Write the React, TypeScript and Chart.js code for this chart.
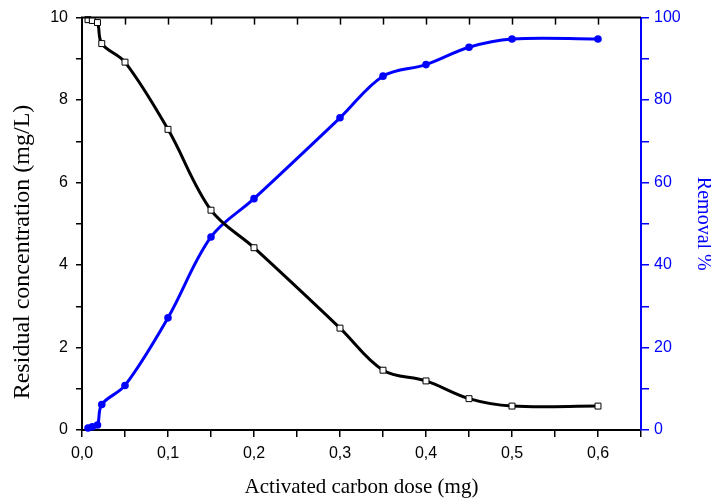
import React, { useEffect, useRef } from "react";
import { Chart, registerables } from "chart.js";

Chart.register(...registerables);

const dose = [0.007, 0.012, 0.018, 0.023, 0.05, 0.1, 0.15, 0.2, 0.3, 0.35, 0.4, 0.45, 0.5, 0.6];
const residual = [9.95, 9.93, 9.88, 9.37, 8.92, 7.29, 5.33, 4.42, 2.47, 1.45, 1.19, 0.76, 0.58, 0.58];
const removal = [0.5, 0.8, 1.2, 6.2, 10.8, 27.2, 46.8, 56.1, 75.7, 85.8, 88.6, 92.8, 94.8, 94.8];

const xTitle = "Activated carbon dose (mg)";
const yTitle = "Residual concentration (mg/L)";
const y1Title = "Removal %";

const BLUE = "#0000ff";
const SERIF = "'Liberation Serif', 'Times New Roman', serif";
const TICK_FONT = { family: "'Liberation Sans', Arial, sans-serif", size: 16 };

const frameAndTitle = {
  id: "frameAndTitle",
  afterDraw(chart: any) {
    const { ctx, chartArea, scales } = chart;
    const xs = scales.x;
    ctx.save();
    ctx.strokeStyle = "#000";
    ctx.lineWidth = 2;
    ctx.beginPath();
    ctx.moveTo(chartArea.left - 1, chartArea.top);
    ctx.lineTo(chartArea.right, chartArea.top);
    ctx.stroke();
    ctx.lineWidth = 1.5;
    xs.ticks.forEach((t: any) => {
      const px = Math.round(xs.getPixelForValue(t.value)) + 0.5;
      if (px <= chartArea.left + 1 || px >= chartArea.right - 1) return;
      ctx.beginPath();
      ctx.moveTo(px, chartArea.top);
      ctx.lineTo(px, chartArea.top + 7);
      ctx.stroke();
    });
    // left axis title
    ctx.translate(23, 252);
    ctx.rotate(-Math.PI / 2);
    ctx.fillStyle = "#000";
    ctx.font = `24px ${SERIF}`;
    ctx.textAlign = "center";
    ctx.textBaseline = "middle";
    ctx.fillText(yTitle, 0, 0);
    ctx.restore();
  },
};

export default function App() {
  const ref = useRef<HTMLCanvasElement | null>(null);

  useEffect(() => {
    if (!ref.current) return;
    const chart = new Chart(ref.current, {
      type: "line",
      data: {
        datasets: [
          {
            label: "Residual",
            data: dose.map((d, i) => ({ x: d, y: residual[i] })),
            yAxisID: "y",
            borderColor: "#000",
            borderWidth: 3,
            tension: 0.35,
            pointStyle: "rect",
            pointRadius: 4.2,
            pointBackgroundColor: "#fff",
            pointBorderColor: "#000",
            pointBorderWidth: 1,
            clip: false as any,
          },
          {
            label: "Removal",
            data: dose.map((d, i) => ({ x: d, y: removal[i] })),
            yAxisID: "y1",
            borderColor: BLUE,
            borderWidth: 3,
            tension: 0.35,
            pointStyle: "circle",
            pointRadius: 3.8,
            pointBackgroundColor: BLUE,
            pointBorderColor: BLUE,
            pointBorderWidth: 0,
            clip: false as any,
          },
        ],
      },
      options: {
        animation: false,
        responsive: true,
        maintainAspectRatio: false,
        layout: { padding: { top: 16, left: 0, right: 0, bottom: 0 } },
        plugins: { legend: { display: false }, tooltip: { enabled: false } },
        scales: {
          x: {
            type: "linear",
            min: 0,
            max: 0.65,
            position: "bottom",
            border: { display: true, color: "#000", width: 2 },
            grid: { drawOnChartArea: false, drawTicks: true, tickLength: 7, color: "#000", lineWidth: 1.5 },
            ticks: {
              stepSize: 0.05,
              color: "#000",
              font: TICK_FONT,
              padding: 7,
              maxRotation: 0,
              autoSkip: false,
              callback: (v: any) => {
                const n = Number(v);
                if (Math.abs(n * 10 - Math.round(n * 10)) > 1e-6) return "";
                return n.toFixed(1).replace(".", ",");
              },
            },
            title: {
              display: true,
              text: xTitle,
              color: "#000",
              font: { family: SERIF, size: 21, lineHeight: 1.1 },
              padding: { top: 0, bottom: 0 },
            },
            afterFit: (s: any) => {
              s.height = 69;
            },
          },
          y: {
            type: "linear",
            position: "left",
            min: 0,
            max: 10,
            border: { display: true, color: "#000", width: 2 },
            grid: { drawOnChartArea: false, drawTicks: true, tickLength: 6, color: "#000", lineWidth: 1.5 },
            ticks: {
              stepSize: 1,
              color: "#000",
              font: TICK_FONT,
              padding: 8,
              autoSkip: false,
              callback: (v: any) => (Number(v) % 2 === 0 ? String(v) : ""),
            },
            title: { display: false },
            afterFit: (s: any) => {
              s.width = 82;
            },
          },
          y1: {
            type: "linear",
            position: "right",
            min: 0,
            max: 100,
            border: { display: true, color: BLUE, width: 2 },
            grid: { drawOnChartArea: false, drawTicks: true, tickLength: 8, color: BLUE, lineWidth: 1.5 },
            ticks: {
              stepSize: 10,
              color: BLUE,
              font: TICK_FONT,
              padding: 5,
              autoSkip: false,
              callback: (v: any) => (Number(v) % 20 === 0 ? String(v) : ""),
            },
            title: {
              display: true,
              text: y1Title,
              color: BLUE,
              font: { family: SERIF, size: 20, lineHeight: 0.8 },
              padding: { top: 0, bottom: 0 },
            },
            afterFit: (s: any) => {
              s.width = 70;
            },
          },
        },
      },
      plugins: [frameAndTitle],
    });
    return () => chart.destroy();
  }, []);

  return (
    <div style={{ position: "absolute", left: 0, top: 0, width: 711, height: 499, background: "#fff" }}>
      <canvas ref={ref} />
    </div>
  );
}
